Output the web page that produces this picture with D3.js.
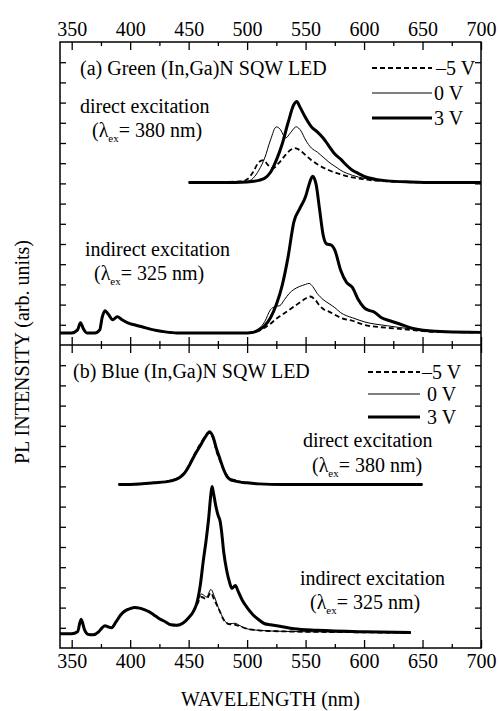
<!DOCTYPE html>
<html><head><meta charset="utf-8">
<script src="https://cdn.jsdelivr.net/npm/d3@7"></script>
<style>
body{margin:0;background:#fff;}
svg text{font-family:"Liberation Serif","Times New Roman",serif !important;fill:#000;}
</style></head><body>
<svg id="chart" width="499" height="711"></svg>
<script>
// ---------- DATA ----------
const xTicks = [350,400,450,500,550,600,650,700];
const xMinor = [375,425,475,525,575,625,675];
const legendLabels = ["\u20135 V","0 V","3 V"];

// Panel (a) Green LED, direct excitation (lambda_ex = 380 nm)
const aDirWl   = [450,480,500,510,515,520,525,530,535,540,542.5,545,550,555,560,565,570,575,580,585,590,595,600,610,620,640,660,700];
const aDir3V   = [0,0,0.05,0.2,0.4,1.0,2.2,3.8,5.9,7.7,8.0,7.5,6.4,5.5,5.0,4.4,3.6,2.8,2.3,1.7,1.2,0.9,0.6,0.3,0.15,0.05,0,0];
const aDir0Wl  = [450,490,500,505,510,515,520,525,528,533,537,542,546,550,555,560,565,570,575,580,590,600,620,650,700];
const aDir0V   = [0,0,0.1,0.4,1.2,2.4,4.2,5.5,5.3,4.4,4.9,5.5,5.1,4.2,3.4,3.0,2.5,2.0,1.6,1.2,0.7,0.4,0.1,0,0];
const aDirM5Wl = [450,495,500,505,510,514,518,522,527,532,537,541,545,550,555,560,570,580,590,600,620,650,700];
const aDirM5V  = [0,0.1,0.3,1.0,2.0,2.2,1.7,1.4,1.9,2.6,3.2,3.4,3.2,2.7,2.2,1.8,1.2,0.8,0.5,0.3,0.1,0,0];

// Panel (a) indirect excitation (lambda_ex = 325 nm): common UV part then each bias
const aIndCommonWl = [340,350,355,357.5,360,363,370,374,376,378.5,381,385,389,393,398,405,410,420,430,440,500];
const aIndCommon   = [0,0,0.3,1.0,0.4,0,0,0.3,1.5,2.2,1.9,1.3,1.6,1.3,1.0,0.75,0.6,0.3,0.1,0,0];
const aInd3Wl  = [505,510,515,520,525,530,535,540,545,550,553,556,559,562,565,568,572,575,580,585,590,595,600,605,608,615,622,630,640,655,670,700];
const aInd3V   = [0.05,0.3,0.7,1.5,2.8,4.7,7.5,11.0,12.3,13.5,14.7,15.5,14.7,12.2,9.7,8.8,8.7,8.2,6.2,5.0,4.5,3.3,2.5,2.2,2.1,1.5,1.2,0.9,0.5,0.2,0.1,0.05];
const aInd0Wl  = [505,510,515,520,524,528,532,536,540,545,550,553,556,560,565,570,575,580,585,590,600,620,640,660,700];
const aInd0V   = [0.1,0.4,1.1,2.3,2.6,2.7,3.3,3.9,4.3,4.6,4.8,4.9,4.6,3.9,3.3,2.9,2.5,2.0,1.7,1.5,1.1,0.7,0.4,0.2,0.05];
const aIndM5Wl = [505,510,515,520,525,530,535,540,545,550,554,558,562,566,570,575,580,590,600,620,640,660,700];
const aIndM5V  = [0.05,0.2,0.5,0.9,1.4,1.8,2.2,2.6,3.0,3.4,3.6,3.3,2.7,2.3,2.1,1.8,1.5,1.2,0.8,0.5,0.3,0.1,0.05];

// Panel (b) Blue LED, direct excitation
const bDirWl   = [390,400,420,435,442,446,450,455,460,464,468,471,474,477,480,483,486,489,493,500,510,530,650];
const bDir3V   = [0,0,0.15,0.35,0.65,1.05,1.75,2.85,3.85,4.65,5.2,4.65,3.45,2.45,1.45,0.75,0.45,0.35,0.25,0.15,0.05,0,0];
const bDir0V   = [0,0,0.15,0.35,0.6,1.0,1.7,2.8,3.8,4.55,5.1,4.6,3.4,2.4,1.5,0.8,0.5,0.4,0.3,0.15,0.05,0,0];
const bDirM5V  = [0,0,0.15,0.4,0.7,1.1,1.85,3.0,4.0,4.7,5.1,4.55,3.2,2.3,1.45,0.85,0.55,0.45,0.3,0.15,0.05,0,0];

// Panel (b) indirect excitation
const bIndCommonWl = [340,350,355,358,361,364,368,373,376,378.5,381,384,388,392,396,400,404,408,412,416,420,425,430,435,440,445,450,454];
const bIndCommon   = [0,0,0.2,1.45,0.4,-0.05,-0.1,0.2,0.6,0.8,0.7,0.6,1.2,1.9,2.3,2.5,2.6,2.55,2.4,2.2,1.9,1.5,1.2,0.9,0.85,1.05,1.6,2.2];
const bInd3Wl  = [457,460,462.6,465,467,469,470,471,473,475,477,478,480,482.5,485,487,490,492,496,500,505,510,515,520,528,540,560,600,640];
const bInd3V   = [3.05,4.85,7.3,9.3,11.3,13.8,14.6,14.1,12.8,11.8,11.1,10.3,8.1,6.3,5.1,4.5,4.8,4.3,3.3,2.6,1.9,1.4,1.0,0.9,0.75,0.5,0.35,0.2,0.13];
const bInd0Wl  = [457,461,465.4,469,472,475.4,478,481,485,489.6,494,498,505,512.5,530,560,600,640];
const bInd0V   = [2.95,3.95,3.65,4.4,3.7,2.6,1.9,1.25,1.0,1.05,0.8,0.57,0.4,0.33,0.25,0.2,0.15,0.1];
const bIndM5Wl = [457,461,465,469,472,476,480,485,490,495,500,510,530,600,640];
const bIndM5V  = [2.85,3.65,3.45,4.05,3.35,2.4,1.4,0.95,0.9,0.7,0.5,0.35,0.25,0.15,0.1];

// vertical offsets of each stacked spectrum (arb. units)
const offsets = {aDir:16.1, aInd:1.2, bDir:16.2, bInd:1.4};

// ---------- LAYOUT ----------
const svg = d3.select("#chart");
const L = 60, R = 481, T = 42, MID = 345, B = 648;
const x = d3.scaleLinear().domain([340,700]).range([L,R]);
const yA = d3.scaleLinear().domain([0,30]).range([MID,T]);
const yB = d3.scaleLinear().domain([0,30]).range([B,MID]);

const styles = {
  m5:{w:1.8, dash:"5,3"},
  z:{w:1.0, dash:null},
  p3:{w:3.0, dash:null}
};

function series(wl, vals, off, pre){
  let pts = [];
  if(pre) pre[0].forEach((w,i)=>pts.push([w, pre[1][i]+off]));
  wl.forEach((w,i)=>pts.push([w, vals[i]+off]));
  return pts;
}
function draw(pts, y, st){
  const line = d3.line().x(d=>x(d[0])).y(d=>y(d[1])).curve(d3.curveMonotoneX);
  svg.append("path").attr("d", line(pts)).attr("fill","none").attr("stroke","#000")
    .attr("stroke-width", st.w).attr("stroke-dasharray", st.dash).attr("stroke-linejoin","round");
}

// Panel a
draw(series(aDirM5Wl,aDirM5V,offsets.aDir), yA, styles.m5);
draw(series(aDir0Wl,aDir0V,offsets.aDir), yA, styles.z);
draw(series(aDirWl,aDir3V,offsets.aDir), yA, styles.p3);
const aPre = [aIndCommonWl, aIndCommon];
draw(series(aIndM5Wl,aIndM5V,offsets.aInd,aPre), yA, styles.m5);
draw(series(aInd0Wl,aInd0V,offsets.aInd,aPre), yA, styles.z);
draw(series(aInd3Wl,aInd3V,offsets.aInd,aPre), yA, styles.p3);
// Panel b
draw(series(bDirWl,bDirM5V,offsets.bDir), yB, styles.m5);
draw(series(bDirWl,bDir0V,offsets.bDir), yB, styles.z);
draw(series(bDirWl,bDir3V,offsets.bDir), yB, styles.p3);
const bPre = [bIndCommonWl, bIndCommon];
draw(series(bIndM5Wl,bIndM5V,offsets.bInd,bPre), yB, styles.m5);
draw(series(bInd0Wl,bInd0V,offsets.bInd,bPre), yB, styles.z);
draw(series(bInd3Wl,bInd3V,offsets.bInd,bPre), yB, styles.p3);

// ---------- AXES ----------
const frame = svg.append("g");
frame.append("rect").attr("x",L).attr("y",T).attr("width",R-L).attr("height",B-T)
  .attr("fill","none").attr("stroke","#000").attr("stroke-width",1.5);
frame.append("line").attr("x1",L).attr("x2",R).attr("y1",MID).attr("y2",MID).attr("stroke","#000").attr("stroke-width",1.5);

function xAxis(gen, ty, major, minor, labels){
  const g = svg.append("g").attr("transform",`translate(0,${ty})`)
    .call(gen(x).tickValues(xTicks).tickSizeInner(major).tickSizeOuter(0).tickPadding(6).tickFormat(labels?d3.format("d"):""));
  g.attr("font-family",null).attr("font-size",null);
  g.select(".domain").remove();
  g.selectAll("text").style("font-size","20px").style("font-family","'Liberation Serif', serif");
  const g2 = svg.append("g").attr("transform",`translate(0,${ty})`)
    .call(gen(x).tickValues(xMinor).tickSizeInner(minor).tickSizeOuter(0).tickFormat(""));
  g2.select(".domain").remove();
}
xAxis(d3.axisTop, T, -8, -4, true);
xAxis(d3.axisBottom, B, -8, -4, true);
xAxis(d3.axisBottom, MID, 8, 4, false);
xAxis(d3.axisTop, MID, 8, 4, false);

// y ticks (no labels)
const yTickVals = d3.range(2,30,2);
[yA,yB].forEach(y=>{
  const gl = svg.append("g").attr("transform",`translate(${L},0)`)
    .call(d3.axisRight(y).tickValues(yTickVals).tickSizeInner(6).tickSizeOuter(0).tickFormat(""));
  gl.select(".domain").remove();
  const gr = svg.append("g").attr("transform",`translate(${R},0)`)
    .call(d3.axisLeft(y).tickValues(yTickVals).tickSizeInner(6).tickSizeOuter(0).tickFormat(""));
  gr.select(".domain").remove();
});
svg.selectAll(".tick line").attr("stroke-width",1.3);

// ---------- TEXT ----------
const fs = 20;
function txt(s, tx, ty, anchor){
  return svg.append("text").attr("x",tx).attr("y",ty).attr("font-size",fs)
    .attr("text-anchor",anchor||"start").text(s);
}
function lambdaLabel(nm, tx, ty){
  const t = svg.append("text").attr("x",tx).attr("y",ty).attr("font-size",fs);
  t.append("tspan").text("(\u03BB");
  t.append("tspan").attr("font-size",11).attr("dy",5).text("ex");
  t.append("tspan").attr("dy",-5).text("= " + nm + " nm)");
}
txt("(a) Green (In,Ga)N SQW LED", 80, 75);
txt("direct excitation", 80, 113);
lambdaLabel(380, 92, 137);
txt("indirect excitation", 85, 256);
lambdaLabel(325, 94, 280);

txt("(b) Blue (In,Ga)N SQW LED", 73, 378);
txt("direct excitation", 303, 447);
lambdaLabel(380, 312, 472);
txt("indirect excitation", 300, 585);
lambdaLabel(325, 310, 609);

// legends
function legend(x0, x1, tx, rows){
  rows.forEach((ry,i)=>{
    const st = [styles.m5, styles.z, styles.p3][i];
    svg.append("line").attr("x1",x0).attr("x2",x1).attr("y1",ry-7).attr("y2",ry-7)
      .attr("stroke","#000").attr("stroke-width",st.w).attr("stroke-dasharray",st.dash);
    txt(legendLabels[i], tx[i], ry);
  });
}
legend(372, 432, [436,434,434], [75,100,125]);
legend(368, 420, [422,427,427], [379,401,424]);

// axis titles
svg.append("text").attr("x",(L+R)/2).attr("y",706).attr("text-anchor","middle")
  .attr("font-size",20).text("WAVELENGTH (nm)");
svg.append("text").attr("transform","translate(29,352) rotate(-90)").attr("text-anchor","middle")
  .attr("font-size",20).text("PL INTENSITY (arb. units)");
</script></body></html>
